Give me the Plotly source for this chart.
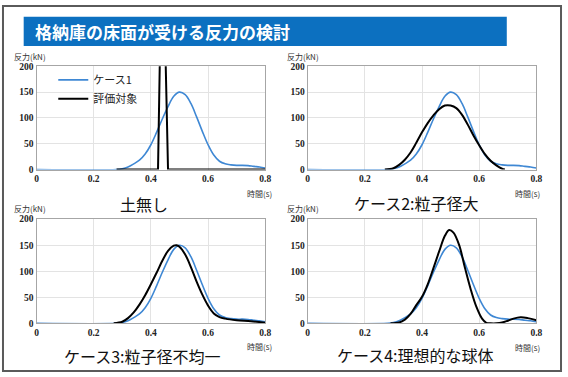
import plotly.graph_objects as go

W, H = 568, 377

# ---- data ----
t_case1 = [0, 0.28, 0.30, 0.32, 0.34, 0.36, 0.38, 0.40, 0.42, 0.44, 0.46, 0.48, 0.50,
           0.52, 0.54, 0.56, 0.58, 0.60, 0.62, 0.64, 0.66, 0.68, 0.70, 0.72, 0.74,
           0.76, 0.78, 0.80]
y_case1 = [0, 0, 1.5, 5, 11, 18, 30, 48, 72, 98, 122, 142, 150,
           145, 128, 102, 74, 48, 28, 16, 11, 9, 8, 8, 7.5,
           6, 5, 3]

t_eval1 = [0.28, 0.425, 0.44, 0.46, 0.80]
y_eval1 = [0, 0, 500, 0, 0]

t_eval2 = [0.27, 0.30, 0.32, 0.34, 0.36, 0.38, 0.40, 0.42, 0.44, 0.46, 0.48, 0.50,
           0.52, 0.54, 0.56, 0.58, 0.60, 0.62, 0.64, 0.66, 0.68, 0.69]
y_eval2 = [0, 2.5, 9, 19, 33, 52, 72, 90, 105, 117, 124, 124,
           119, 106, 87, 66, 47, 30, 17, 8, 1.5, 0]

t_eval3 = [0.27, 0.30, 0.32, 0.34, 0.36, 0.38, 0.40, 0.42, 0.44, 0.46, 0.48, 0.49,
           0.50, 0.52, 0.54, 0.56, 0.58, 0.60, 0.62, 0.64, 0.66, 0.70, 0.75, 0.80]
y_eval3 = [0, 3, 10, 21, 36, 54, 75, 97, 120, 139, 149, 150,
           147, 132, 108, 80, 55, 34, 19, 12, 9, 6, 4, 1]

t_eval4 = [0.29, 0.32, 0.34, 0.36, 0.38, 0.40, 0.42, 0.44, 0.46, 0.48, 0.495,
           0.51, 0.53, 0.55, 0.57, 0.59, 0.61, 0.625, 0.64, 0.66, 0.68, 0.70, 0.72,
           0.745, 0.77, 0.80]
y_eval4 = [0, 1.5, 7, 18, 35, 51, 75, 106, 138, 168, 179,
           174, 150, 107, 66, 32, 9, 1, 0, 0, 1.5, 5, 9,
           11.5, 10, 6]

panel_titles = ["土無し", "ケース2:粒子径大", "ケース3:粒子径不均一", "ケース4:理想的な球体"]
series_names = ["ケース1", "評価対象"]
x_ticks = [0, 0.2, 0.4, 0.6, 0.8]
y_ticks = [0, 50, 100, 150, 200]
main_title = "格納庫の床面が受ける反力の検討"

evals = [(t_eval1, y_eval1), (t_eval2, y_eval2), (t_eval3, y_eval3), (t_eval4, y_eval4)]

# ---- layout helpers ----
def px(x):
    return x / W

def py(y):
    return 1 - y / H

# plot-area pixel boxes (x0, x1, ytop, ybottom)
boxes = [(35, 267, 63, 169), (310, 542, 63, 169), (35, 267, 220, 327), (310, 542, 220, 327)]

BLUE = "#3F88D4"
fig = go.Figure()

for i, (x0, x1, yt, yb) in enumerate(boxes):
    xa = "x" if i == 0 else f"x{i+1}"
    ya = "y" if i == 0 else f"y{i+1}"
    te, ye = evals[i]
    fig.add_trace(go.Scatter(x=t_case1, y=y_case1, mode="lines", name=series_names[0],
                             line=dict(color=BLUE, width=1.6, shape="spline", smoothing=1.0),
                             xaxis=xa, yaxis=ya, showlegend=(i == 0), legendrank=1))
    fig.add_trace(go.Scatter(x=te, y=ye, mode="lines", name=series_names[1],
                             line=dict(color="#000000", width=2,
                                       shape="linear" if i == 0 else "spline", smoothing=1.0),
                             xaxis=xa, yaxis=ya, showlegend=(i == 0), legendrank=2))
    axis_common = dict(showline=True, linecolor="#A6A6A6", linewidth=1, mirror=True,
                       showgrid=True, gridcolor="#E3E3E3", gridwidth=1, zeroline=False,
                       ticks="", tickfont=dict(family="Liberation Serif", size=9.5,
                                               color="#222222", weight="bold"))
    xkey = "xaxis" if i == 0 else f"xaxis{i+1}"
    ykey = "yaxis" if i == 0 else f"yaxis{i+1}"
    fig.layout[xkey] = dict(domain=[px(x0), px(x1)], range=[0, 0.8], tickvals=x_ticks,
                            anchor=ya, **axis_common)
    fig.layout[ykey] = dict(domain=[py(yb), py(yt)], range=[0, 200], tickvals=y_ticks,
                            anchor=xa, **axis_common)

def label(x, y, text, size, color, xanchor="center", family="Noto Sans CJK JP"):
    return dict(x=px(x), y=py(y), xref="paper", yref="paper", text=text, showarrow=False,
                xanchor=xanchor, yanchor="middle",
                font=dict(family=family, size=size, color=color))

annotations = []
for (lx, ly) in [(28, 53), (305, 53), (28, 209), (305, 209)]:
    annotations.append(label(lx, ly, "反力(kN)", 8, "#333333"))
for (lx, ly) in [(261, 194), (533, 194), (261, 351), (533, 352)]:
    annotations.append(label(lx, ly, "時間(s)", 8, "#333333"))
for txt, (lx, ly) in zip(panel_titles, [(144, 204), (420, 203), (142, 361), (419, 360)]):
    annotations.append(label(lx, ly, txt, 16, "#111111"))
annotations.append(label(31, 27, "<b>" + main_title + "</b>", 17, "#FFFFFF", xanchor="left"))

shapes = [
    dict(type="rect", xref="paper", yref="paper", x0=px(22), x1=px(512), y0=py(42), y1=py(12),
         fillcolor="#0C70C0", line=dict(width=0), layer="below"),
    dict(type="rect", xref="paper", yref="paper", x0=px(1), x1=px(567), y0=py(376), y1=py(1),
         fillcolor="rgba(0,0,0,0)", line=dict(color="#5A5A5A", width=2)),
]

fig.update_layout(
    width=W, height=H, margin=dict(l=0, r=0, t=0, b=0),
    paper_bgcolor="white", plot_bgcolor="white",
    annotations=annotations, shapes=shapes,
    legend=dict(x=px(52), y=py(62), xanchor="left", yanchor="top", bgcolor="rgba(0,0,0,0)",
                font=dict(family="Noto Sans CJK JP", size=11, color="#222222"),
                tracegroupgap=0, itemwidth=30),
)

fig.write_html("out.html", config={"displayModeBar": False},
               post_script="document.body.style.margin='0px';document.body.style.overflow='hidden';")
